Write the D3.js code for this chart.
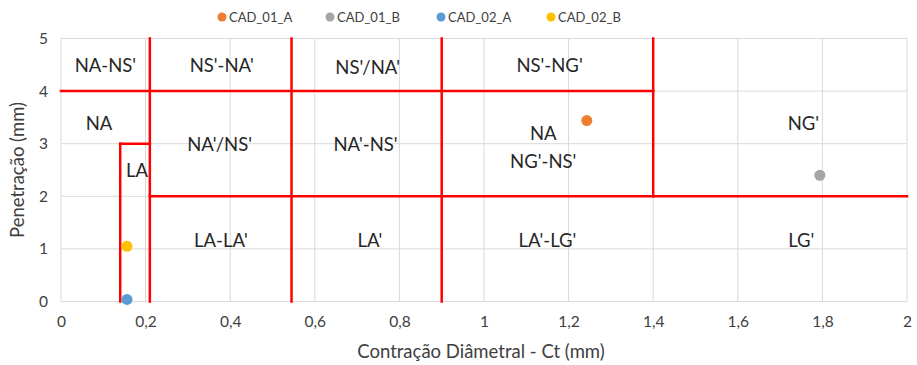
<!DOCTYPE html>
<html>
<head>
<meta charset="utf-8">
<script src="https://cdn.jsdelivr.net/npm/d3@7"></script>
<style>
  body { margin: 0; background: #fff; }
  svg { display: block; font-family: Lato, "Open Sans", sans-serif; }
</style>
</head>
<body>
<svg id="chart" width="917" height="365"></svg>
<script>
// Series (Ct in mm, penetration in mm)
const seriesNames = ["CAD_01_A", "CAD_01_B", "CAD_02_A", "CAD_02_B"];
const seriesColors = ["#ED7D31", "#A5A5A5", "#5B9BD5", "#FFC000"];
const seriesX = [1.243, 1.794, 0.156, 0.156];
const seriesY = [3.44, 2.40, 0.04, 1.05];

// Axis ticks
const xTicks = [0, 0.2, 0.4, 0.6, 0.8, 1, 1.2, 1.4, 1.6, 1.8, 2];
const yTicks = [0, 1, 2, 3, 4, 5];

// Zone boundaries as segments [x1, y1, x2, y2]
const boundaries = [
  [0, 4, 1.4, 4],
  [0.21, 2, 2, 2],
  [0.21, 0, 0.21, 5],
  [0.545, 0, 0.545, 5],
  [0.9, 0, 0.9, 5],
  [1.4, 2, 1.4, 5],
  [0.14, 0, 0.14, 3],
  [0.14, 3, 0.21, 3]
];

// Zone labels [text, x, y]
const zoneLabels = [
  ["NA-NS'", 0.105, 4.5],
  ["NS'-NA'", 0.38, 4.5],
  ["NS'/NA'", 0.725, 4.46],
  ["NS'-NG'", 1.155, 4.5],
  ["NA", 0.09, 3.4],
  ["NA'/NS'", 0.375, 3.0],
  ["NA'-NS'", 0.72, 3.0],
  ["NA", 1.14, 3.2],
  ["NG'-NS'", 1.14, 2.68],
  ["NG'", 1.755, 3.4],
  ["LA", 0.18, 2.5],
  ["LA-LA'", 0.378, 1.17],
  ["LA'", 0.73, 1.17],
  ["LA'-LG'", 1.15, 1.17],
  ["LG'", 1.75, 1.17]
];

const svg = d3.select("#chart");
const margin = { left: 61, right: 10, top: 38.5, bottom: 64 };

const x = d3.scaleLinear().domain([0, 2]).range([margin.left, 907]);
const y = d3.scaleLinear().domain([0, 5]).range([301.5, margin.top]);

const fmt = v => String(v).replace(".", ",");

// Gridlines
const grid = svg.append("g");
grid.selectAll("line.v").data(xTicks).join("line")
  .attr("x1", d => x(d)).attr("x2", d => x(d))
  .attr("y1", y(0)).attr("y2", y(5))
  .attr("stroke", "#d9d9d9").attr("stroke-width", 1);
grid.selectAll("line.h").data(yTicks).join("line")
  .attr("x1", x(0)).attr("x2", x(2))
  .attr("y1", d => y(d)).attr("y2", d => y(d))
  .attr("stroke", "#d9d9d9").attr("stroke-width", 1);

// Axes (labels only)
const xAxis = svg.append("g")
  .attr("transform", `translate(0,${y(0)})`)
  .call(d3.axisBottom(x).tickValues(xTicks).tickFormat(fmt).tickSize(0).tickPadding(14));
const yAxis = svg.append("g")
  .attr("transform", `translate(${x(0)},0)`)
  .call(d3.axisLeft(y).tickValues(yTicks).tickFormat(fmt).tickSize(0).tickPadding(13));
[xAxis, yAxis].forEach(a => {
  a.select(".domain").remove();
  a.selectAll("text").attr("font-size", 15.5).attr("fill", "#404040")
    .attr("font-family", "Lato, 'Open Sans', sans-serif");
});

// Zone boundaries
svg.append("g").selectAll("line").data(boundaries).join("line")
  .attr("x1", d => x(d[0])).attr("y1", d => y(d[1]))
  .attr("x2", d => x(d[2])).attr("y2", d => y(d[3]))
  .attr("stroke", "#FF0000").attr("stroke-width", 2.5)
  .attr("stroke-linecap", "square");

// Zone labels
svg.append("g").selectAll("text").data(zoneLabels).join("text")
  .attr("x", d => x(d[1])).attr("y", d => y(d[2]))
  .attr("text-anchor", "middle").attr("dominant-baseline", "central")
  .attr("font-size", 18.5).attr("fill", "#262626")
  .text(d => d[0]);

// Points
svg.append("g").selectAll("circle").data(seriesNames).join("circle")
  .attr("cx", (d, i) => x(seriesX[i])).attr("cy", (d, i) => y(seriesY[i]))
  .attr("r", 5.5).attr("fill", (d, i) => seriesColors[i]);

// Axis titles
svg.append("text").attr("x", 481).attr("y", 358)
  .attr("text-anchor", "middle").attr("font-size", 18.5).attr("fill", "#404040")
  .text("Contração Diâmetral - Ct (mm)");
svg.append("text")
  .attr("transform", `translate(24,${(y(0) + y(5)) / 2}) rotate(-90)`)
  .attr("text-anchor", "middle").attr("font-size", 18.5).attr("fill", "#404040")
  .text("Penetração (mm)");

// Legend
const legendX = [222, 330, 441, 551];
const legend = svg.append("g").selectAll("g").data(seriesNames).join("g")
  .attr("transform", (d, i) => `translate(${legendX[i]},17)`);
legend.append("circle").attr("r", 4.5).attr("fill", (d, i) => seriesColors[i]);
legend.append("text").attr("x", 7).attr("dominant-baseline", "central")
  .attr("font-size", 13).attr("fill", "#404040").text(d => d);
</script>
</body>
</html>
